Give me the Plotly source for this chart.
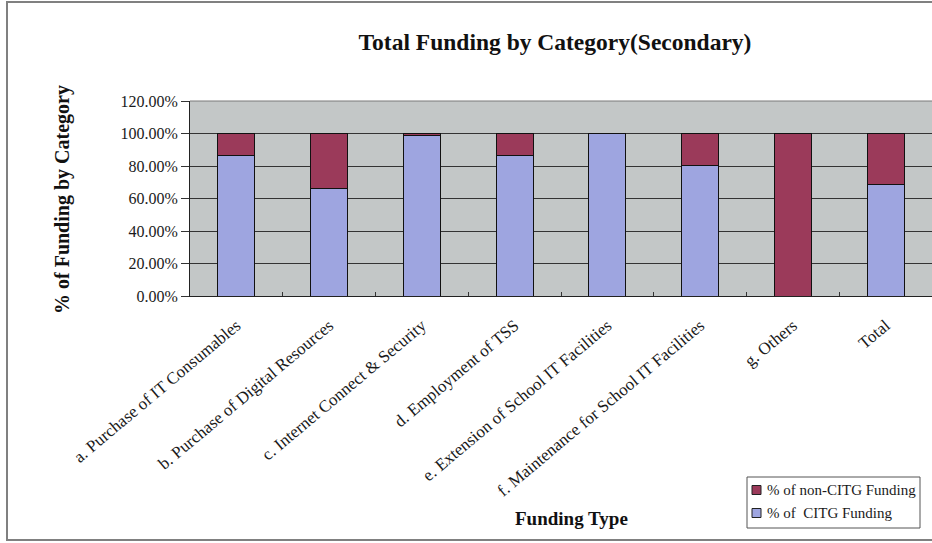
import plotly.graph_objects as go

# Funding categories (secondary schools)
categories = [
    "a. Purchase of IT Consumables",
    "b. Purchase of Digital Resources",
    "c. Internet Connect & Security",
    "d. Employment of TSS",
    "e. Extension of School IT Facilities",
    "f. Maintenance for School IT Facilities",
    "g. Others",
    "Total",
]

# Share of funding per category (percent)
citg_pct = [86.5, 66.0, 98.5, 86.2, 100.0, 80.6, 0.0, 68.7]
non_citg_pct = [13.5, 34.0, 1.5, 13.8, 0.0, 19.4, 100.0, 31.3]

y_ticks = [0, 20, 40, 60, 80, 100, 120]
y_tick_text = [f"{v:.2f}%" for v in y_ticks]

series_names = ["% of non-CITG Funding", "% of  CITG Funding"]
CITG_COLOR = "#9ea5e0"
NON_CITG_COLOR = "#9b3a5a"

SERIF = "Liberation Serif, Times New Roman, serif"

# Pixel layout of the plot area inside the 932x543 page
L, R, T, B = 190, 932, 101, 296
W, H = 932, 543


def px_x(x):
    return (x - L) / (R - L)


def px_y(y):
    return (B - y) / (B - T)


fig = go.Figure()
fig.add_trace(go.Bar(
    x=categories, y=citg_pct, name=series_names[1],
    marker=dict(color=CITG_COLOR, line=dict(color="#111111", width=1)),
    width=0.4, showlegend=False,
))
fig.add_trace(go.Bar(
    x=categories, y=non_citg_pct, name=series_names[0],
    marker=dict(color=NON_CITG_COLOR, line=dict(color="#111111", width=1)),
    width=0.4, showlegend=False,
))

# Compact legend box drawn by hand (small swatches next to the text)
legend_shapes = [
    dict(type="rect", xref="paper", yref="paper",
         x0=px_x(747), x1=px_x(920), y0=px_y(528), y1=px_y(477),
         line=dict(color="#555555", width=1), fillcolor="white"),
]
legend_annots = []
for name, color, yc in [(series_names[0], NON_CITG_COLOR, 490),
                        (series_names[1], CITG_COLOR, 513)]:
    legend_shapes.append(dict(
        type="rect", xref="paper", yref="paper",
        x0=px_x(752), x1=px_x(761), y0=px_y(yc + 4.5), y1=px_y(yc - 4.5),
        line=dict(color="#222222", width=1), fillcolor=color))
    legend_annots.append(dict(
        text=name, xref="paper", yref="paper",
        x=px_x(765), y=px_y(yc), xanchor="left", yanchor="middle",
        showarrow=False,
        font=dict(family=SERIF, size=15, color="#1a1a1a")))

fig.update_layout(
    width=W, height=H,
    barmode="stack",
    paper_bgcolor="white",
    plot_bgcolor="#c3c7c7",
    margin=dict(l=L, r=W - R, t=T, b=H - B, pad=0),
    font=dict(family=SERIF, size=16, color="#1a1a1a"),
    showlegend=False,
    title=dict(
        text="<b>Total Funding by Category(Secondary)</b>",
        x=px_x(555), xref="paper", xanchor="center",
        y=1 - 42 / H, yref="container", yanchor="middle",
        font=dict(family=SERIF, size=23.5, color="#111111"),
    ),
    xaxis=dict(
        type="category",
        tickangle=-40,
        tickfont=dict(family=SERIF, size=17, color="#1a1a1a"),
        ticklabelstandoff=12,
        showline=True, linecolor="#222222", linewidth=1,
        ticks="inside", ticklen=4, tickcolor="#333333",
        tickson="boundaries",
        showgrid=False,
        range=[-0.5, len(categories) - 0.5],
    ),
    yaxis=dict(
        range=[0, 120],
        tickvals=y_ticks,
        ticktext=y_tick_text,
        tickfont=dict(family=SERIF, size=16, color="#1a1a1a"),
        showline=True, linecolor="#222222", linewidth=1,
        ticks="outside", ticklen=8, tickcolor="#333333",
        showgrid=True, gridcolor="#333333", gridwidth=1,
        zeroline=False,
    ),
    annotations=[
        dict(
            text="<b>% of Funding by Category</b>",
            xref="paper", yref="paper",
            x=px_x(62), y=px_y(200),
            textangle=-90, showarrow=False,
            font=dict(family=SERIF, size=20, color="#111111"),
            xanchor="center", yanchor="middle",
        ),
        dict(
            text="<b>Funding Type</b>",
            xref="paper", yref="paper",
            x=px_x(571), y=px_y(518),
            showarrow=False,
            font=dict(family=SERIF, size=19, color="#111111"),
            xanchor="center", yanchor="middle",
        ),
    ] + legend_annots,
    shapes=[
        # top border of the plot area
        dict(type="line", xref="paper", yref="paper",
             x0=0, x1=1, y0=1, y1=1,
             line=dict(color="#7a7a7a", width=1)),
        # frame around the whole chart
        dict(type="rect", xref="paper", yref="paper",
             x0=px_x(7), x1=px_x(945), y0=px_y(540), y1=px_y(2),
             line=dict(color="#808080", width=2), layer="below"),
    ] + legend_shapes,
)

fig.write_html("out.html")
